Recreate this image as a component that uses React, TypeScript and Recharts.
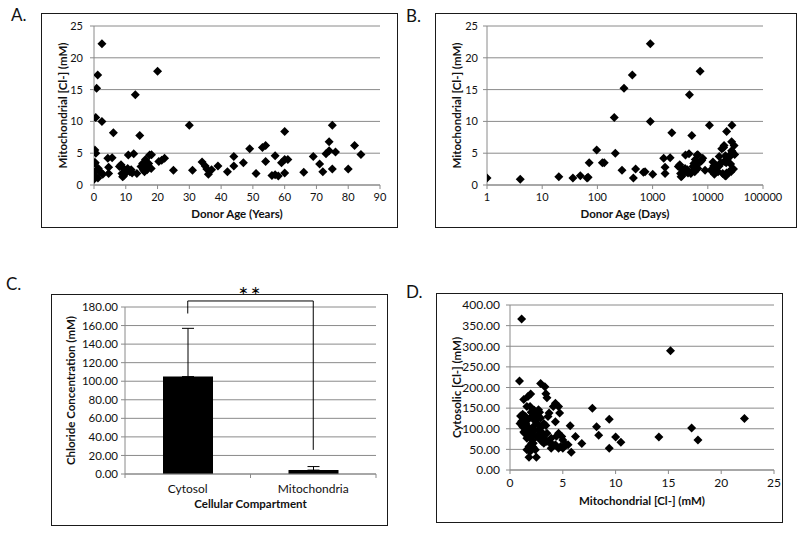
import React from "react";
import {
  Bar,
  BarChart,
  CartesianGrid,
  ErrorBar,
  ReferenceLine,
  Scatter,
  ScatterChart,
  XAxis,
  YAxis,
} from "recharts";

// ---- data ----

// A: donor age (years) vs mitochondrial [Cl-] (mM)
const ageYearsPoints: [number, number][] = [
  [0.0, 1.1], [0.01, 0.9], [0.05, 1.3], [0.1, 1.15], [0.13, 1.45], [0.18, 1.2], [0.19, 1.2],
  [0.19, 3.5], [0.27, 5.5], [0.34, 3.5], [0.36, 3.5], [0.55, 10.6], [0.58, 5.0], [0.76, 2.3],
  [0.83, 15.2], [1.17, 17.3], [1.23, 1.1], [1.35, 2.6], [1.86, 2.1], [2.0, 2.1], [2.5, 22.2],
  [2.5, 10.0], [2.75, 1.7], [4.35, 4.2], [4.6, 2.8], [4.6, 1.8], [5.7, 4.3], [6.1, 8.2],
  [8.0, 2.9], [8.5, 3.2], [8.8, 1.8], [9.0, 1.3], [9.3, 1.4], [9.5, 2.5], [9.8, 2.2], [10.2, 2.0],
  [10.6, 2.6], [10.8, 4.7], [11.3, 2.1], [11.7, 2.4], [12.0, 1.9], [12.5, 4.9], [13.0, 14.2],
  [13.5, 1.8], [14.4, 7.8], [14.8, 2.9], [15.3, 3.4], [15.5, 2.4], [15.9, 2.1], [16.2, 4.0],
  [16.4, 2.9], [16.7, 2.4], [17.0, 3.0], [17.2, 3.4], [17.5, 4.7], [18.0, 2.6], [18.1, 4.75],
  [20.0, 17.9], [20.4, 3.7], [21.3, 3.9], [22.2, 4.2], [25.0, 2.3], [30.0, 9.4], [31.0, 2.3],
  [34.0, 3.6], [35.0, 3.0], [35.5, 2.5], [36.0, 1.7], [37.0, 2.4], [39.0, 3.0], [42.0, 2.1],
  [44.0, 4.5], [44.0, 3.0], [47.0, 3.5], [49.0, 5.7], [51.0, 1.8], [53.0, 5.9], [54.0, 6.2],
  [54.0, 3.7], [56.0, 1.5], [57.0, 1.6], [57.0, 4.6], [58.0, 1.4], [59.0, 3.5], [60.0, 1.9],
  [60.0, 4.0], [60.0, 8.4], [61.0, 4.0], [66.0, 2.0], [69.0, 4.5], [71.0, 3.3], [72.0, 2.1],
  [73.0, 4.9], [74.0, 5.4], [74.0, 6.8], [75.0, 9.4], [75.0, 2.5], [76.0, 5.2], [80.0, 2.5],
  [82.0, 6.2], [84.0, 4.8],
];

// B: donor age (days, log axis) vs mitochondrial [Cl-] (mM)
const ageDaysPoints: [number, number][] = [
  [1, 1.1], [4, 0.9], [20, 1.3], [36, 1.1], [49, 1.45], [65, 1.1], [68, 1.2], [71, 3.5],
  [97, 5.5], [123, 3.5], [133, 3.5], [202, 10.6], [211, 5.0], [279, 2.3], [303, 15.2],
  [429, 17.3], [448, 1.1], [493, 2.5], [680, 2.0], [730, 2.1], [910, 22.2], [910, 10.0],
  [1005, 1.7], [1590, 4.2], [1680, 2.8], [1680, 1.8], [2075, 4.3], [2230, 8.2],
  [2920, 2.9], [3100, 3.2], [3210, 1.8], [3290, 1.3], [3400, 1.4], [3470, 2.5], [3580, 2.2],
  [3720, 2.0], [3870, 2.6], [3940, 4.7], [4130, 2.1], [4270, 2.4], [4380, 1.9], [4560, 4.9],
  [4650, 14.2], [4930, 1.8], [5130, 7.8], [5400, 2.9], [5590, 3.4], [5660, 2.4], [5800, 2.1],
  [5920, 4.0], [5990, 2.9], [6100, 2.4], [6210, 3.0], [6280, 3.4], [6390, 4.7], [6570, 2.6],
  [6600, 4.75], [7260, 17.9], [7450, 3.7], [7780, 3.9], [8100, 4.2], [8920, 2.3], [10700, 9.4],
  [11300, 2.3], [12400, 3.6], [12780, 3.0], [12960, 2.5], [13150, 1.7], [13500, 2.4],
  [14240, 3.0], [15340, 2.1], [16070, 4.5], [16100, 3.0], [17170, 3.5], [17900, 5.7],
  [18630, 1.8], [19360, 5.9], [19720, 6.2], [19750, 3.7], [20450, 1.5], [20820, 1.6],
  [20850, 4.6], [21180, 1.4], [21550, 3.5], [21900, 1.9], [21920, 4.0], [21950, 8.4],
  [22280, 4.0], [24100, 2.0], [25200, 4.5], [25930, 3.3], [26300, 2.1], [26660, 4.9],
  [27030, 5.4], [27050, 6.8], [27390, 9.4], [27400, 2.5], [27760, 5.2], [29220, 2.5],
  [29950, 6.2], [30680, 4.8],
];

// C: mean chloride per compartment with +SD
const compartments = ["Cytosol", "Mitochondria"];
const compartmentMeans = [105, 4.2];
const compartmentSd = [52, 3.8];

// D: mitochondrial vs cytosolic [Cl-] (mM)
const mitoCytoPoints: [number, number][] = [
  [1.1, 366], [0.9, 216], [15.2, 289], [22.2, 125], [17.2, 102], [17.8, 73], [14.1, 80],
  [7.8, 150], [8.2, 105], [8.4, 84], [9.4, 123], [9.4, 53], [10.0, 80], [10.5, 67], [6.8, 64],
  [6.2, 81], [5.7, 107], [5.8, 43], [2.9, 210], [3.3, 202], [3.4, 185], [3.5, 175], [1.96, 184],
  [1.7, 178], [1.3, 171], [1.6, 154], [1.9, 154], [1.0, 131], [1.4, 131], [0.95, 113], [1.2, 105],
  [1.4, 89], [1.6, 77], [1.6, 49], [1.8, 31], [2.5, 31], [2.4, 49], [2.2, 65], [2.05, 85],
  [2.2, 105], [2.4, 122], [2.5, 138], [2.7, 146], [2.9, 126], [3.0, 105], [3.1, 89], [3.2, 65],
  [3.5, 69], [3.6, 130], [3.7, 138], [3.9, 65], [4.3, 61], [4.6, 53], [3.2, 113], [4.1, 154],
  [4.3, 162], [4.6, 154], [4.7, 138], [4.3, 117], [4.6, 89], [4.9, 81], [5.0, 73], [5.3, 61],
  [5.5, 61], [3.9, 77], [3.5, 89], [2.15, 138], [2.05, 130], [2.4, 118], [1.7, 122], [1.9, 97],
  [1.7, 105], [2.05, 65], [1.8, 57], [2.5, 81], [2.7, 97], [2.8, 85], [3.2, 77], [3.9, 53],
  [5.0, 53], [1.2, 135], [1.5, 128], [2.0, 140], [2.3, 145], [2.6, 132], [1.3, 92], [1.5, 100],
  [2.1, 72], [2.8, 140], [3.4, 108], [4.0, 60], [4.4, 82], [1.1, 118], [2.6, 112], [1.8, 88],
  [2.3, 95], [1.5, 112], [3.0, 70], [4.8, 57], [1.9, 45], [2.7, 78], [2.2, 55],
];

const yearTicks = [0, 10, 20, 30, 40, 50, 60, 70, 80, 90];
const dayTicks = [1, 10, 100, 1000, 10000, 100000];
const mitoTicks = [0, 5, 10, 15, 20, 25];
const chlorideTicks = [0, 20, 40, 60, 80, 100, 120, 140, 160, 180];
const cytoTicks = [0, 50, 100, 150, 200, 250, 300, 350, 400];

// ---- styling ----
const FONT = "Lato, 'Liberation Sans', sans-serif";
const GREY = "#8a8a8a";
const INK = "#111";

const toXY = (pts: [number, number][]) => pts.map(([x, y]) => ({ x, y }));

const Diamond = (props: any) => {
  const { cx, cy } = props;
  if (cx == null || cy == null) return null;
  const r = 4.5;
  return <path d={`M${cx},${cy - r}L${cx + r},${cy}L${cx},${cy + r}L${cx - r},${cy}Z`} fill="#000" />;
};

const tickStyle = (size: number) => ({ fill: INK, fontSize: size, fontFamily: FONT });
const titleStyle = { fill: INK, fontSize: 11.5, fontFamily: FONT, fontWeight: 700 };

function Frame({ left, top, width, height }: { left: number; top: number; width: number; height: number }) {
  return (
    <div
      style={{
        position: "absolute",
        left,
        top,
        width,
        height,
        boxSizing: "border-box",
        border: "1px solid #1a1a1a",
      }}
    />
  );
}

function PanelLetter({ text, left, top }: { text: string; left: number; top: number }) {
  return (
    <div style={{ position: "absolute", left, top, fontFamily: FONT, fontSize: 17, lineHeight: "17px", color: "#111" }}>
      {text}
    </div>
  );
}

type ScatterPanelProps = {
  left: number;
  top: number;
  width: number;
  height: number;
  margin: { top: number; right: number; bottom: number; left: number };
  yWidth: number;
  xHeight: number;
  data: { x: number; y: number }[];
  xDomain: [number, number];
  xTicks: number[];
  xLog?: boolean;
  yDomain: [number, number];
  yTicks: number[];
  yFixed?: boolean;
  xTitle: string;
  yTitle: string;
  tickSize: number;
  yTickMargin: number;
  xTitleOffset: number;
  yTitleOffset: number;
};

function ScatterPanel(p: ScatterPanelProps) {
  return (
    <div style={{ position: "absolute", left: p.left, top: p.top }}>
      <ScatterChart width={p.width} height={p.height} margin={p.margin}>
        <CartesianGrid vertical={false} stroke={GREY} />
        <XAxis
          type="number"
          dataKey="x"
          scale={p.xLog ? "log" : "auto"}
          domain={p.xDomain}
          ticks={p.xTicks}
          interval={0}
          allowDataOverflow
          height={p.xHeight}
          stroke={GREY}
          tickSize={4}
          tickMargin={4}
          tick={tickStyle(p.tickSize)}
          label={{ value: p.xTitle, position: "insideBottom", offset: p.xTitleOffset, style: titleStyle }}
        />
        <YAxis
          type="number"
          dataKey="y"
          domain={p.yDomain}
          ticks={p.yTicks}
          interval={0}
          allowDataOverflow
          width={p.yWidth}
          stroke={GREY}
          tickSize={4}
          tickMargin={p.yTickMargin}
          tick={tickStyle(p.tickSize)}
          tickFormatter={(v: number) => (p.yFixed ? v.toFixed(2) : String(v))}
          label={{
            value: p.yTitle,
            angle: -90,
            position: "insideLeft",
            offset: p.yTitleOffset,
            textAnchor: "middle",
            style: { ...titleStyle, textAnchor: "middle" },
          }}
        />
        <Scatter data={p.data} shape={Diamond} isAnimationActive={false} />
      </ScatterChart>
    </div>
  );
}

const C_AXIS_Y_GAP = 4 + 6; // tickSize + tickMargin

const CompartmentTick = (props: any) => {
  const { x, y, payload, index } = props;
  const half = payload?.offset ?? 62.75;
  const axisY = y - C_AXIS_Y_GAP;
  return (
    <g>
      <line x1={x - half} x2={x - half} y1={axisY} y2={axisY + 4} stroke={GREY} />
      {index === compartments.length - 1 && (
        <line x1={x + half} x2={x + half} y1={axisY} y2={axisY + 4} stroke={GREY} />
      )}
      <text x={x} y={y} dy="0.71em" textAnchor="middle" fill={INK} fontSize={12} fontFamily={FONT}>
        {payload.value}
      </text>
    </g>
  );
};

function BarPanel() {
  const data = compartments.map((name, i) => ({
    name,
    value: compartmentMeans[i],
    err: [0, compartmentSd[i]],
  }));
  return (
    <div style={{ position: "absolute", left: 51, top: 280 }}>
      <BarChart width={337} height={246} data={data} margin={{ top: 27, right: 12, bottom: 11, left: 0 }} barSize={50}>
        <CartesianGrid vertical={false} stroke={GREY} />
        <XAxis
          dataKey="name"
          height={41}
          interval={0}
          stroke={GREY}
          tickLine={false}
          tickSize={4}
          tickMargin={6}
          tick={<CompartmentTick />}
          label={{ value: "Cellular Compartment", position: "insideBottom", offset: 7, style: titleStyle }}
        />
        <YAxis
          domain={[0, 180]}
          ticks={chlorideTicks}
          interval={0}
          allowDataOverflow
          width={74}
          stroke={GREY}
          tickSize={4}
          tickMargin={3}
          tick={tickStyle(11.5)}
          tickFormatter={(v: number) => v.toFixed(2)}
          label={{
            value: "Chloride Concentration (mM)",
            angle: -90,
            position: "insideLeft",
            offset: 20,
            textAnchor: "middle",
            style: { ...titleStyle, textAnchor: "middle" },
          }}
        />
        <Bar dataKey="value" fill="#000" isAnimationActive={false}>
          <ErrorBar dataKey="err" direction="y" width={6} stroke="#000" strokeWidth={1} />
        </Bar>
        <ReferenceLine
          segment={[{ x: "Cytosol", y: 173 }, { x: "Cytosol", y: 186.5 }]}
          stroke="#000"
          ifOverflow="visible"
        />
        <ReferenceLine
          segment={[{ x: "Cytosol", y: 186.5 }, { x: "Mitochondria", y: 186.5 }]}
          stroke="#000"
          ifOverflow="visible"
          label={{
            value: "**",
            position: "top",
            offset: -3,
            fill: "#000",
            fontSize: 24,
            fontFamily: FONT,
            letterSpacing: 2,
          }}
        />
        <ReferenceLine
          segment={[{ x: "Mitochondria", y: 186.5 }, { x: "Mitochondria", y: 26 }]}
          stroke="#000"
          ifOverflow="visible"
        />
      </BarChart>
    </div>
  );
}

export default function App() {
  return (
    <div style={{ position: "absolute", left: 0, top: 0, width: 800, height: 534, background: "#fff", overflow: "hidden" }}>
      <Frame left={41} top={13} width={357} height={215} />
      <Frame left={435} top={13} width={362} height={215} />
      <Frame left={51} top={294} width={337} height={232} />
      <Frame left={436} top={293} width={347} height={230} />

      <PanelLetter text="A." left={11} top={6} />
      <PanelLetter text="B." left={406} top={7} />
      <PanelLetter text="C." left={6} top={275} />
      <PanelLetter text="D." left={406} top={283} />

      <ScatterPanel
        left={41}
        top={13}
        width={357}
        height={215}
        margin={{ top: 13, right: 18, bottom: 3, left: 0 }}
        yWidth={53}
        xHeight={40}
        data={toXY(ageYearsPoints)}
        xDomain={[0, 90]}
        xTicks={yearTicks}
        yDomain={[0, 25]}
        yTicks={mitoTicks}
        xTitle="Donor Age (Years)"
        yTitle="Mitochondrial [Cl-] (mM)"
        tickSize={11}
        yTickMargin={7}
        xTitleOffset={7}
        yTitleOffset={22}
      />
      <ScatterPanel
        left={435}
        top={13}
        width={362}
        height={215}
        margin={{ top: 13, right: 34, bottom: 3, left: 0 }}
        yWidth={52}
        xHeight={40}
        data={toXY(ageDaysPoints)}
        xDomain={[1, 100000]}
        xTicks={dayTicks}
        xLog
        yDomain={[0, 25]}
        yTicks={mitoTicks}
        xTitle="Donor Age (Days)"
        yTitle="Mitochondrial [Cl-] (mM)"
        tickSize={11}
        yTickMargin={5}
        xTitleOffset={7}
        yTitleOffset={22}
      />
      <BarPanel />
      <ScatterPanel
        left={436}
        top={293}
        width={347}
        height={230}
        margin={{ top: 12, right: 9, bottom: 12, left: 0 }}
        yWidth={74}
        xHeight={41}
        data={toXY(mitoCytoPoints)}
        xDomain={[0, 25]}
        xTicks={mitoTicks}
        yDomain={[0, 400]}
        yTicks={cytoTicks}
        yFixed
        xTitle="Mitochondrial [Cl-] (mM)"
        yTitle="Cytosolic [Cl-] (mM)"
        tickSize={12}
        yTickMargin={6}
        xTitleOffset={6}
        yTitleOffset={21}
      />
    </div>
  );
}
